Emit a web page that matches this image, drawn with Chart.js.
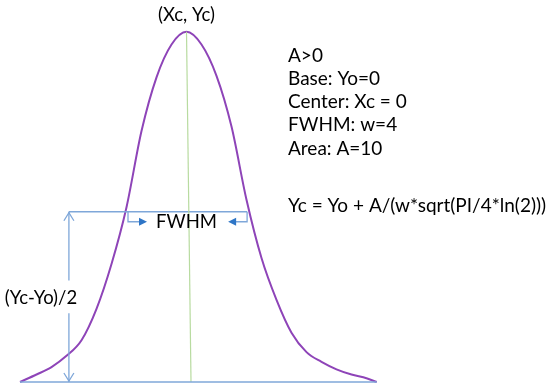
<!DOCTYPE html>
<html>
<head>
<meta charset="utf-8">
<script src="https://cdn.jsdelivr.net/npm/chart.js@4.4.1/dist/chart.umd.min.js"></script>
<style>
  html, body { margin: 0; padding: 0; background: #ffffff; }
  #wrap { width: 550px; height: 390px; }
</style>
</head>
<body>
<div id="wrap"><canvas id="peakChart" width="550" height="390"></canvas></div>
<script>
// curve (x in the same units as w = 4)
const curveX = [-5.55, -5, -4.5, -4, -3.5, -3, -2.5, -2, -1.5, -1, -0.5, 0,
                0.5, 1, 1.5, 2, 2.5, 3, 3.5, 4, 4.5, 5, 5.5, 6, 6.34];
const curveY = [0, 0.05, 0.10, 0.175, 0.28, 0.49, 0.79, 1.17, 1.68, 2.04, 2.26, 2.345,
                2.26, 2.05, 1.71, 1.22, 0.83, 0.55, 0.33, 0.20, 0.135, 0.085, 0.05, 0.025, 0];

const peakX = 0;
const peakY = 2.345;
const halfY = 1.14;
const baseStart = -5.55;
const baseEnd = 6.34;
const halfLeft = -1.95;
const halfRight = 2.02;
const arrowX = -3.92;

const infoLines = ["A>0", "Base: Yo=0", "Center: Xc = 0", "FWHM: w=4", "Area: A=10"];
const formula = "Yc = Yo + A/(w*sqrt(PI/4*ln(2)))";

const lightBlue = '#7fa7d9';
const darkBlue = '#2e75c6';

function pts(xs, ys) {
    return xs.map((x, i) => ({ x: x, y: ys[i] }));
}

// arrows, bracket ends and all the labels
const labelPlugin = {
    id: 'labels',
    afterDatasetsDraw(chart) {
        const ctx = chart.ctx;
        const sx = chart.scales.x;
        const sy = chart.scales.y;
        const px = v => sx.getPixelForValue(v);
        const py = v => sy.getPixelForValue(v);

        ctx.save();

        // open heads on the vertical arrow
        const ax = px(arrowX);
        ctx.strokeStyle = lightBlue;
        ctx.lineWidth = 1.3;
        ctx.beginPath();
        ctx.moveTo(ax - 5, py(halfY) + 9);
        ctx.lineTo(ax, py(halfY) + 1);
        ctx.lineTo(ax + 5, py(halfY) + 9);
        ctx.moveTo(ax - 5, py(0) - 9);
        ctx.lineTo(ax, py(0) - 1);
        ctx.lineTo(ax + 5, py(0) - 9);
        ctx.stroke();

        // FWHM brackets
        const yb = py(halfY) + 10;
        const lx = px(halfLeft), rx = px(halfRight);
        ctx.beginPath();
        ctx.moveTo(lx, py(halfY));
        ctx.lineTo(lx, yb);
        ctx.lineTo(lx + 12, yb);
        ctx.moveTo(rx, py(halfY));
        ctx.lineTo(rx, yb);
        ctx.lineTo(rx - 12, yb);
        ctx.stroke();

        ctx.fillStyle = darkBlue;
        ctx.beginPath();
        ctx.moveTo(lx + 19, yb);
        ctx.lineTo(lx + 11, yb - 4);
        ctx.lineTo(lx + 11, yb + 4);
        ctx.closePath();
        ctx.fill();
        ctx.beginPath();
        ctx.moveTo(rx - 19, yb);
        ctx.lineTo(rx - 11, yb - 4);
        ctx.lineTo(rx - 11, yb + 4);
        ctx.closePath();
        ctx.fill();

        // texts
        ctx.fillStyle = '#000000';
        ctx.font = '18.5px Lato';
        ctx.textBaseline = 'middle';
        ctx.textAlign = 'center';
        ctx.fillText('(Xc, Yc)', px(peakX), py(peakY) - 17);
        ctx.fillText('FWHM', (lx + rx) / 2 - 1, yb);
        ctx.fillText('(Yc-Yo)/2', ax - 28, 298);

        ctx.font = '19px Lato';
        ctx.textAlign = 'left';
        infoLines.forEach((t, i) => ctx.fillText(t, 288, 56 + i * 23.1));
        ctx.fillText(formula, 288, 206);

        ctx.restore();
    }
};

const ctx = document.getElementById('peakChart').getContext('2d');
const peakChart = new Chart(ctx, {
    type: 'line',
    data: {
        datasets: [
            {
                // baseline
                data: pts([baseStart, baseEnd], [0, 0]),
                borderColor: lightBlue,
                borderWidth: 1.5,
                pointRadius: 0
            },
            {
                // center line
                data: pts([peakX, 0.15], [peakY, 0]),
                borderColor: '#b8dba0',
                borderWidth: 1.2,
                pointRadius: 0
            },
            {
                // half height line
                data: pts([arrowX, halfRight], [halfY, halfY]),
                borderColor: lightBlue,
                borderWidth: 1.5,
                pointRadius: 0
            },
            {
                // vertical arrow, split round the label
                data: [{ x: arrowX, y: halfY }, { x: arrowX, y: 0.68 }, { x: arrowX, y: null },
                       { x: arrowX, y: 0.46 }, { x: arrowX, y: 0 }],
                borderColor: lightBlue,
                borderWidth: 1.3,
                pointRadius: 0,
                spanGaps: false
            },
            {
                // the peak
                data: pts(curveX, curveY),
                borderColor: '#8e44b8',
                borderWidth: 2,
                pointRadius: 0,
                cubicInterpolationMode: 'monotone'
            }
        ]
    },
    options: {
        responsive: false,
        animation: false,
        layout: { padding: 0 },
        plugins: {
            legend: { display: false },
            tooltip: { enabled: false }
        },
        scales: {
            x: { type: 'linear', display: false, min: -6.217, max: 12.117 },
            y: { type: 'linear', display: false, min: -0.0536, max: 2.5576 }
        }
    },
    plugins: [labelPlugin]
});
</script>
</body>
</html>
